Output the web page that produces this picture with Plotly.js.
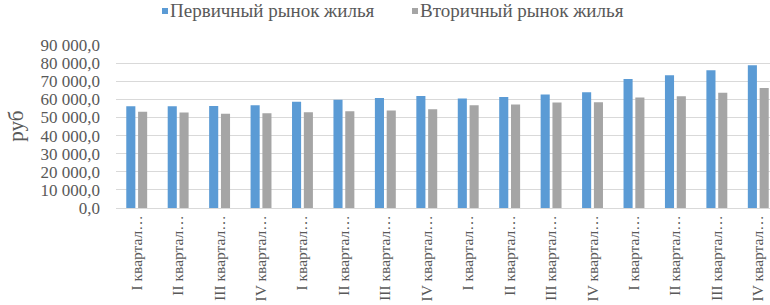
<!DOCTYPE html>
<html>
<head>
<meta charset="utf-8">
<script src="https://cdn.plot.ly/plotly-3.0.1.min.js"></script>
<style>
html,body{margin:0;padding:0;overflow:hidden;background:#fff;width:770px;height:305px;}
#chart{width:779px;height:305px;}
</style>
</head>
<body>
<div id="chart"></div>
<script>
const quarters = ["I квартал…","II квартал…","III квартал…","IV квартал…",
                  "I квартал…","II квартал…","III квартал…","IV квартал…",
                  "I квартал…","II квартал…","III квартал…","IV квартал…",
                  "I квартал…","II квартал…","III квартал…","IV квартал…"];
const primaryMarket = [56200,56200,56300,56800,58700,59800,60700,61800,60400,61300,62600,63900,71200,73300,76000,78800];
const secondaryMarket = [53200,52700,52100,52300,52800,53400,53800,54500,56700,57100,58200,58400,61000,61700,63700,66300];
const seriesNames = ["Первичный рынок жилья","Вторичный рынок жилья"];
const seriesColors = ["#5B9BD5","#A5A5A5"];
const yTitle = "руб";

const idx = quarters.map((q,i)=>i);
const font = "Liberation Serif";

const traces = [
  {type:'bar', x: idx, y: primaryMarket, name: seriesNames[0], marker:{color:seriesColors[0]}},
  {type:'bar', x: idx, y: secondaryMarket, name: seriesNames[1], marker:{color:seriesColors[1]}}
];

// plot area geometry (pixels) used to place the legend built from annotations
const W = 779, H = 305, L = 116, R = 0, T = 45, B = 97;
const pw = W - L - R, ph = H - T - B;
const px = v => (v - L) / pw;
const py = v => (H - B - v) / ph;

const legendX = [162, 412];
const legendY = 10.5;
const shapes = seriesNames.map((n,i)=>({
  type:'rect', xref:'paper', yref:'paper',
  x0: px(legendX[i]), x1: px(legendX[i]+6), y0: py(legendY+3.5), y1: py(legendY-2.5),
  fillcolor: seriesColors[i], line:{width:0}
}));
const legendAnn = seriesNames.map((n,i)=>({
  text:n, xref:'paper', yref:'paper', x:px(legendX[i]+7), y:py(legendY), xanchor:'left', yanchor:'middle',
  showarrow:false, borderpad:0, font:{family:font, size:19, color:'#595959'}
}));

const layout = {
  width: W, height: H,
  margin: {l:L, r:R, t:T, b:B},
  paper_bgcolor:'#fff', plot_bgcolor:'#fff',
  separators: ", ",
  barmode:'group', bargap:0.43, bargroupgap:0.23,
  font:{family:font, color:'#595959', size:16},
  showlegend:false,
  xaxis:{type:'linear', range:[-0.5,15.5], tickmode:'array', tickvals: idx, ticktext: quarters,
         tickangle:-90, tickfont:{family:font, size:15.5, color:'#595959'},
         showgrid:false, zeroline:false, showline:true, linecolor:'#d9d9d9', linewidth:1,
         ticks:'', automargin:false, fixedrange:true},
  yaxis:{range:[0,90000], dtick:10000, tickformat:',.1f', tickfont:{family:font, size:17, color:'#595959'},
         showgrid:true, gridcolor:'#d9d9d9', gridwidth:1, zeroline:false, showline:false,
         ticks:'', ticklabelstandoff:15, automargin:false, fixedrange:true},
  shapes: shapes,
  annotations:[{text:yTitle, xref:'paper', yref:'paper', x:-0.152, y:0.5, xanchor:'center', yanchor:'middle',
                textangle:-90, showarrow:false, font:{family:font, size:21, color:'#595959'}}].concat(legendAnn)
};

Plotly.newPlot('chart', traces, layout, {displayModeBar:false, staticPlot:true});
</script>
</body>
</html>
